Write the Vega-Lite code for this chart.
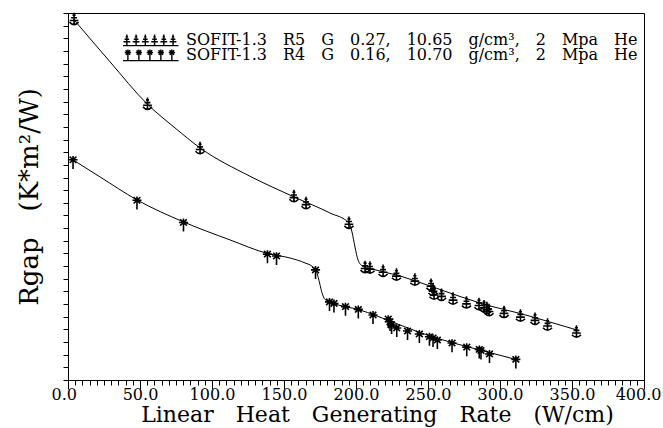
{
  "$schema": "https://vega.github.io/schema/vega-lite/v6.json",
  "width": 576,
  "height": 367,
  "autosize": "none",
  "padding": {"left": 68, "top": 13, "right": 19, "bottom": 48},
  "background": "white",
  "config": {"view": {"stroke": "black", "strokeWidth": 1}, "font": "DejaVu Serif"},
  "datasets": {
    "points": [
      {"series": "R5", "x": 4.2, "y": 28.5},
      {"series": "R5", "x": 55.2, "y": 21.8},
      {"series": "R5", "x": 91.7, "y": 18.3},
      {"series": "R5", "x": 156.9, "y": 14.5},
      {"series": "R5", "x": 165.3, "y": 13.95},
      {"series": "R5", "x": 195.1, "y": 12.4},
      {"series": "R5", "x": 206.3, "y": 8.9},
      {"series": "R5", "x": 209.7, "y": 8.85},
      {"series": "R5", "x": 218.8, "y": 8.6},
      {"series": "R5", "x": 228.1, "y": 8.3},
      {"series": "R5", "x": 240.9, "y": 7.9},
      {"series": "R5", "x": 252.1, "y": 7.5},
      {"series": "R5", "x": 253.5, "y": 7.1},
      {"series": "R5", "x": 254.2, "y": 6.8},
      {"series": "R5", "x": 259.4, "y": 6.7},
      {"series": "R5", "x": 267.4, "y": 6.4},
      {"series": "R5", "x": 276.7, "y": 6.1},
      {"series": "R5", "x": 285.4, "y": 5.97},
      {"series": "R5", "x": 288.9, "y": 5.8},
      {"series": "R5", "x": 290.9, "y": 5.65},
      {"series": "R5", "x": 292.4, "y": 5.5},
      {"series": "R5", "x": 302.8, "y": 5.35},
      {"series": "R5", "x": 314.2, "y": 5.06},
      {"series": "R5", "x": 324.3, "y": 4.8},
      {"series": "R5", "x": 333.0, "y": 4.35},
      {"series": "R5", "x": 353.1, "y": 3.8},
      {"series": "R4", "x": 3.5, "y": 17.4},
      {"series": "R4", "x": 47.9, "y": 14.2},
      {"series": "R4", "x": 80.2, "y": 12.45},
      {"series": "R4", "x": 138.5, "y": 9.95},
      {"series": "R4", "x": 144.8, "y": 9.8},
      {"series": "R4", "x": 171.9, "y": 8.7},
      {"series": "R4", "x": 181.6, "y": 6.17},
      {"series": "R4", "x": 184.7, "y": 6.05},
      {"series": "R4", "x": 192.7, "y": 5.8},
      {"series": "R4", "x": 201.6, "y": 5.58},
      {"series": "R4", "x": 211.8, "y": 5.14},
      {"series": "R4", "x": 222.4, "y": 4.82},
      {"series": "R4", "x": 223.6, "y": 4.6},
      {"series": "R4", "x": 224.7, "y": 4.35},
      {"series": "R4", "x": 228.3, "y": 4.11},
      {"series": "R4", "x": 235.8, "y": 3.87},
      {"series": "R4", "x": 244.0, "y": 3.64},
      {"series": "R4", "x": 251.0, "y": 3.42},
      {"series": "R4", "x": 253.5, "y": 3.32},
      {"series": "R4", "x": 256.5, "y": 3.16},
      {"series": "R4", "x": 266.7, "y": 2.92},
      {"series": "R4", "x": 276.9, "y": 2.6},
      {"series": "R4", "x": 285.6, "y": 2.42},
      {"series": "R4", "x": 286.8, "y": 2.33},
      {"series": "R4", "x": 292.7, "y": 2.06},
      {"series": "R4", "x": 311.0, "y": 1.63}
    ],
    "curves": [
      {"series": "R5", "x": 4.2, "y": 28.46},
      {"series": "R5", "x": 29.2, "y": 25.14},
      {"series": "R5", "x": 54.9, "y": 21.82},
      {"series": "R5", "x": 74.3, "y": 19.92},
      {"series": "R5", "x": 91.7, "y": 18.34},
      {"series": "R5", "x": 126.4, "y": 16.1},
      {"series": "R5", "x": 156.9, "y": 14.47},
      {"series": "R5", "x": 181.9, "y": 13.2},
      {"series": "R5", "x": 195.1, "y": 12.41},
      {"series": "R5", "x": 197.2, "y": 11.7},
      {"series": "R5", "x": 199.3, "y": 10.51},
      {"series": "R5", "x": 201.4, "y": 9.49},
      {"series": "R5", "x": 204.9, "y": 8.97},
      {"series": "R5", "x": 209.7, "y": 8.81},
      {"series": "R5", "x": 230.6, "y": 8.22},
      {"series": "R5", "x": 251.4, "y": 7.43},
      {"series": "R5", "x": 272.2, "y": 6.6},
      {"series": "R5", "x": 293.1, "y": 5.85},
      {"series": "R5", "x": 313.9, "y": 5.26},
      {"series": "R5", "x": 334.7, "y": 4.58},
      {"series": "R5", "x": 353.5, "y": 3.95},
      {"series": "R4", "x": 3.5, "y": 17.39},
      {"series": "R4", "x": 22.2, "y": 16.05},
      {"series": "R4", "x": 47.9, "y": 14.23},
      {"series": "R4", "x": 80.2, "y": 12.49},
      {"series": "R4", "x": 112.5, "y": 11.07},
      {"series": "R4", "x": 138.5, "y": 10.0},
      {"series": "R4", "x": 154.2, "y": 9.64},
      {"series": "R4", "x": 164.6, "y": 9.25},
      {"series": "R4", "x": 170.1, "y": 8.93},
      {"series": "R4", "x": 172.9, "y": 8.46},
      {"series": "R4", "x": 174.7, "y": 7.67},
      {"series": "R4", "x": 176.4, "y": 6.88},
      {"series": "R4", "x": 178.5, "y": 6.36},
      {"series": "R4", "x": 182.6, "y": 6.13},
      {"series": "R4", "x": 202.8, "y": 5.53},
      {"series": "R4", "x": 223.6, "y": 4.66},
      {"series": "R4", "x": 244.4, "y": 3.75},
      {"series": "R4", "x": 265.3, "y": 3.0},
      {"series": "R4", "x": 286.1, "y": 2.37},
      {"series": "R4", "x": 311.1, "y": 1.62}
    ]
  },
  "encoding": {
    "x": {
      "field": "x",
      "type": "quantitative",
      "scale": {"domain": [0, 400], "nice": false, "zero": false},
      "axis": {
        "title": "Linear\u2003Heat\u2003Generating\u2003Rate\u2003(W/cm)",
        "titleX": 309,
        "titleAlign": "center",
        "values": [0,5,10,15,20,25,30,35,40,45,50,55,60,65,70,75,80,85,90,95,100,105,110,115,120,125,130,135,140,145,150,155,160,165,170,175,180,185,190,195,200,205,210,215,220,225,230,235,240,245,250,255,260,265,270,275,280,285,290,295,300,305,310,315,320,325,330,335,340,345,350,355,360,365,370,375,380,385,390,395,400],
        "labelExpr": "datum.value % 50 === 0 ? format(datum.value, '.1f') : ''",
        "labelOverlap": false,
        "labelFlush": true,
        "labelFlushOffset": 17,
        "tickSize": {"condition": {"test": "datum.value % 50 === 0", "value": 9}, "value": 5},
        "tickColor": "black",
        "domainColor": "black",
        "labelColor": "black",
        "labelFont": "DejaVu Serif",
        "labelFontSize": 16,
        "labelPadding": -3,
        "titleFont": "DejaVu Serif",
        "titleFontSize": 22,
        "titleFontWeight": "normal",
        "titleColor": "black",
        "titlePadding": 2,
        "grid": false
      }
    },
    "y": {
      "field": "y",
      "type": "quantitative",
      "scale": {"domain": [0, 29], "nice": false, "zero": false},
      "axis": {
        "title": "Rgap\u2003(K*m²/W)",
        "values": [0,1,2,3,4,5,6,7,8,9,10,11,12,13,14,15,16,17,18,19,20,21,22,23,24,25,26,27,28,29],
        "labels": false,
        "tickSize": 5,
        "tickColor": "black",
        "domainColor": "black",
        "titleFont": "DejaVu Serif",
        "titleFontSize": 26,
        "titleFontWeight": "normal",
        "titleColor": "black",
        "titlePadding": 20,
        "grid": false
      }
    }
  },
  "layer": [
    {
      "data": {"name": "curves"},
      "mark": {"type": "line", "interpolate": "monotone", "color": "black", "strokeWidth": 1},
      "encoding": {"detail": {"field": "series", "type": "nominal"}}
    },
    {
      "data": {"name": "points"},
      "transform": [{"filter": "datum.series === 'R5'"}],
      "mark": {
        "type": "point",
        "filled": false,
        "strokeWidth": 1.6,
        "size": 196,
        "opacity": 1,
        "shape": "M0,-0.95V0.85M-0.22,-0.6H0.22M-0.42,-0.22H0.42M-0.62,0.16H0.62M-0.65,0.4Q0,1.1 0.65,0.4"
      },
      "encoding": {
        "stroke": {
          "field": "series",
          "type": "nominal",
          "scale": {"domain": ["R5"], "range": ["black"]},
          "legend": {
            "orient": "none",
            "legendX": 54,
            "legendY": 19,
            "title": null,
            "padding": 0,
            "labelFont": "DejaVu Serif",
            "labelFontSize": 16,
            "labelColor": "black",
            "labelLimit": 0,
            "labelOffset": 48,
            "symbolSize": 196,
            "symbolStrokeWidth": 1.4,
            "symbolFillColor": "transparent",
            "symbolType": "M-0.45,-0.8V0.8M-0.63,-0.45H-0.27M-0.78,-0.1H-0.12M-0.93,0.25H0.03M0.87,-0.8V0.8M0.69,-0.45H1.05M0.54,-0.1H1.2M0.39,0.25H1.35M2.19,-0.8V0.8M2.01,-0.45H2.37M1.86,-0.1H2.52M1.71,0.25H2.67M3.51,-0.8V0.8M3.33,-0.45H3.69M3.18,-0.1H3.84M3.03,0.25H3.99M4.83,-0.8V0.8M4.65,-0.45H5.01M4.5,-0.1H5.16M4.35,0.25H5.31M6.15,-0.8V0.8M5.97,-0.45H6.33M5.82,-0.1H6.48M5.67,0.25H6.63M-1,0.8H6.93",
            "labelExpr": "'SOFIT-1.3\u2003' + datum.label + '\u2003G\u20030.27,\u200310.65\u2003g/cm³,\u20032\u2003Mpa\u2003He'"
          }
        }
      }
    },
    {
      "data": {"name": "points"},
      "transform": [{"filter": "datum.series === 'R4'"}],
      "mark": {
        "type": "point",
        "filled": false,
        "color": "black",
        "strokeWidth": 1.6,
        "size": 196,
        "opacity": 1,
        "shape": "M-0.65,0H0.65M-0.48,-0.45L0.48,0.45M-0.48,0.45L0.48,-0.45M0,-0.55V1.3"
      },
      "encoding": {
        "strokeDash": {
          "field": "series",
          "type": "nominal",
          "scale": {"domain": ["R4"], "range": [[1, 0]]},
          "legend": {
            "orient": "none",
            "legendX": 54,
            "legendY": 34,
            "title": null,
            "padding": 0,
            "labelFont": "DejaVu Serif",
            "labelFontSize": 16,
            "labelColor": "black",
            "labelLimit": 0,
            "labelOffset": 48,
            "symbolSize": 196,
            "symbolStrokeWidth": 1.4,
            "symbolStrokeColor": "black",
            "symbolFillColor": "transparent",
            "symbolType": "M-0.75,-0.35H0.15M-0.62,-0.68L0.02,-0.02M-0.62,-0.02L0.02,-0.68M-0.3,-0.8V0.8M0.82,-0.35H1.72M0.95,-0.68L1.59,-0.02M0.95,-0.02L1.59,-0.68M1.27,-0.8V0.8M2.39,-0.35H3.29M2.52,-0.68L3.16,-0.02M2.52,-0.02L3.16,-0.68M2.84,-0.8V0.8M3.96,-0.35H4.86M4.09,-0.68L4.73,-0.02M4.09,-0.02L4.73,-0.68M4.41,-0.8V0.8M5.53,-0.35H6.43M5.66,-0.68L6.3,-0.02M5.66,-0.02L6.3,-0.68M5.98,-0.8V0.8M-1,0.8H6.93",
            "labelExpr": "'SOFIT-1.3\u2003' + datum.label + '\u2003G\u20030.16,\u200310.70\u2003g/cm³,\u20032\u2003Mpa\u2003He'"
          }
        }
      }
    }
  ]
}
